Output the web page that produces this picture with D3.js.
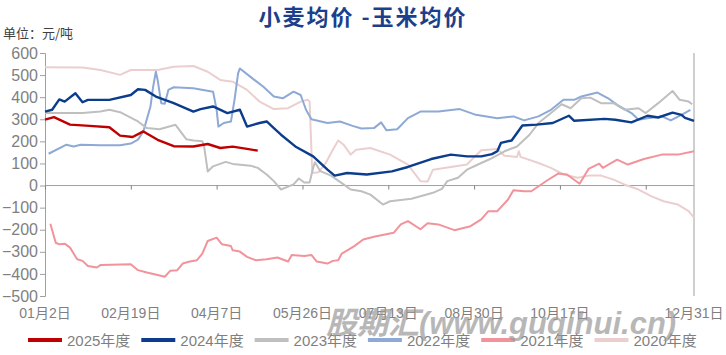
<!DOCTYPE html>
<html>
<head>
<meta charset="utf-8">
<script src="https://cdn.jsdelivr.net/npm/d3@7"></script>
<style>
  body { margin: 0; background: #fff; }
  svg { display: block; font-family: "Liberation Sans", Arial, "Noto Sans CJK SC", sans-serif; }
</style>
</head>
<body>
<div id="chart"></div>
<script>
// day offset from 01-02, spread (wheat avg - corn avg), yuan/ton
const s2025 = [[0,298],[5,310],[14,276],[25,270],[36,264],[42,226],[49,220],[55,245],[63,207],[72,178],[83,177],[91,188],[98,170],[105,176],[113,166],[119,158]]
const s2024 = [[0,335],[4,343],[8,390],[11,380],[17,418],[21,377],[24,388],[36,388],[48,410],[52,436],[56,433],[62,403],[72,373],[83,335],[87,346],[94,358],[102,328],[109,343],[113,267],[120,283],[124,290],[128,260],[132,230],[140,177],[150,132],[158,72],[162,45],[169,57],[180,50],[194,64],[203,84],[216,120],[227,140],[236,132],[244,132],[250,142],[253,155],[255,193],[261,204],[267,272],[275,276],[284,283],[293,316],[296,293],[313,302],[319,298],[328,286],[337,316],[343,308],[351,330],[356,320],[358,306],[363,293]]
const s2023 = [[0,328],[21,328],[31,335],[36,343],[42,332],[52,290],[57,260],[64,255],[73,275],[79,210],[83,204],[88,200],[89,177],[91,64],[94,87],[101,107],[105,98],[115,90],[119,80],[124,50],[128,20],[132,-18],[139,5],[142,32],[145,14],[148,14],[150,81],[151,105],[154,65],[160,45],[167,5],[171,-18],[177,-26],[182,-41],[189,-86],[193,-71],[205,-60],[217,-33],[222,-15],[225,20],[231,35],[236,72],[244,102],[249,120],[257,155],[264,177],[271,230],[276,283],[283,328],[289,368],[294,350],[300,395],[305,398],[311,373],[318,373],[324,343],[332,350],[336,328],[343,373],[351,428],[355,388],[360,380],[362,368]]
const s2022 = [[2,144],[12,185],[16,177],[20,185],[31,182],[42,182],[48,190],[52,208],[55,245],[59,358],[60.5,448],[62,515],[63,478],[65,373],[67,370],[69,433],[72,445],[83,440],[94,425],[96,343],[97,267],[100,283],[104,290],[106,388],[108,508],[109,530],[116,485],[122,448],[128,403],[133,395],[139,425],[143,410],[146,343],[149,300],[158,283],[165,290],[172,270],[177,258],[184,260],[188,286],[191,250],[197,255],[203,305],[210,335],[220,335],[232,346],[241,320],[253,305],[262,313],[268,295],[276,313],[283,343],[290,388],[296,388],[300,403],[309,421],[315,395],[320,365],[328,328],[332,298],[337,305],[345,313],[350,295],[356,320],[361,343]]
const s2021 = [[3,-173],[6,-259],[8,-266],[11,-263],[14,-281],[18,-334],[21,-341],[24,-364],[29,-371],[31,-360],[48,-356],[52,-383],[57,-394],[63,-405],[67,-413],[70,-386],[74,-383],[77,-353],[81,-344],[85,-338],[88,-308],[91,-251],[96,-236],[99,-266],[104,-274],[105,-293],[109,-299],[113,-323],[118,-338],[124,-334],[130,-326],[136,-344],[138,-314],[145,-319],[149,-314],[152,-344],[158,-353],[161,-341],[164,-338],[166,-308],[170,-289],[173,-274],[178,-244],[184,-232],[195,-214],[199,-176],[203,-161],[210,-198],[214,-171],[220,-176],[229,-202],[238,-184],[244,-153],[248,-116],[253,-116],[259,-63],[262,-21],[268,-26],[272,-26],[281,24],[287,54],[292,50],[299,8],[304,75],[310,99],[312,80],[320,117],[326,95],[335,120],[345,140],[354,140],[363,155]]
const s2020 = [[0,535],[21,534],[31,523],[42,501],[48,523],[63,523],[72,538],[83,541],[91,515],[98,478],[105,470],[113,433],[120,380],[128,346],[136,350],[143,380],[147,388],[148,380],[149.5,57],[153,60],[157,102],[161,162],[164,204],[167,185],[171,140],[174,162],[182,170],[193,140],[203,95],[210,20],[214,18],[217,72],[227,84],[236,95],[244,160],[253,165],[257,135],[264,129],[265,155],[266,130],[276,102],[283,80],[290,50],[298,35],[304,45],[311,45],[318,27],[324,5],[332,-18],[339,-48],[346,-71],[354,-86],[360,-116],[363,-145]]

const seriesNames = ["2025年度", "2024年度", "2023年度", "2022年度", "2021年度", "2020年度"]
const tickDays = [0, 48, 96, 144, 192, 240, 288, 336]
const tickLabels = ["01月2日", "02月19日", "04月7日", "05月26日", "07月13日", "08月30日", "10月17日", "", "12月31日"]
const labelDays = [0, 48, 96, 144, 192, 240, 288, 336, 363]
const yTicks = d3.range(-500, 601, 100)

const series = [
  { name: seriesNames[0], data: s2025, color: "#c00000", width: 2.4 },
  { name: seriesNames[1], data: s2024, color: "#0b3d8c", width: 2.4 },
  { name: seriesNames[2], data: s2023, color: "#bfbfbf", width: 2 },
  { name: seriesNames[3], data: s2022, color: "#8ea9d6", width: 2 },
  { name: seriesNames[4], data: s2021, color: "#f2939b", width: 2 },
  { name: seriesNames[5], data: s2020, color: "#ebcfcf", width: 2 }
]

const width = 726, height = 355
const margin = { top: 53, right: 32, bottom: 59, left: 45 }

const x = d3.scaleLinear().domain([0, 363]).range([margin.left, width - margin.right])
const y = d3.scaleLinear().domain([-500, 600]).range([height - margin.bottom, margin.top])

const svg = d3.select("#chart").append("svg")
  .attr("width", width).attr("height", height)

svg.append("text")
  .attr("x", 363).attr("y", 25)
  .attr("text-anchor", "middle")
  .attr("font-family", "'Noto Sans CJK SC', sans-serif")
  .attr("font-size", 22).attr("font-weight", 700)
  .attr("letter-spacing", 2)
  .attr("fill", "#1b3f8b")
  .text("小麦均价 -玉米均价")

svg.append("text")
  .attr("x", 3).attr("y", 38)
  .attr("font-family", "'Noto Sans CJK SC', sans-serif")
  .attr("font-size", 13).attr("fill", "#404040")
  .text("单位：元/吨")

// Y axis
svg.append("g")
  .attr("transform", `translate(${margin.left},0)`)
  .call(d3.axisLeft(y).tickValues(yTicks).tickSize(5).tickPadding(2))
  .call(g => g.select(".domain").attr("stroke", "#a0a0a0"))
  .call(g => g.selectAll(".tick line").attr("stroke", "#a0a0a0"))
  .call(g => g.selectAll(".tick text").attr("font-size", 16).attr("fill", "#7f7f7f")
    .attr("font-family", "'Liberation Sans', Arial, sans-serif"))

// right border
svg.append("line")
  .attr("x1", x(363)).attr("x2", x(363))
  .attr("y1", y(600)).attr("y2", y(-500))
  .attr("stroke", "#a0a0a0")

// zero line with ticks hanging down
svg.append("g")
  .attr("transform", `translate(0,${y(0)})`)
  .call(d3.axisBottom(x).tickValues(tickDays).tickSize(4).tickFormat(""))
  .call(g => g.select(".domain").attr("stroke", "#a0a0a0").attr("d", `M${x(0)},0H${x(363)}`))
  .call(g => g.selectAll(".tick line").attr("stroke", "#808080"))

// date labels along the bottom
svg.append("g").selectAll("text")
  .data(labelDays)
  .join("text")
  .attr("x", d => x(d))
  .attr("y", 318)
  .attr("text-anchor", "middle")
  .attr("font-size", 14)
  .attr("fill", "#7f7f7f")
  .text((d, i) => tickLabels[i])

const line = d3.line().x(d => x(d[0])).y(d => y(d[1]))

svg.append("g").selectAll("path")
  .data(series.slice().reverse())
  .join("path")
  .attr("d", d => line(d.data))
  .attr("fill", "none")
  .attr("stroke", d => d.color)
  .attr("stroke-width", d => d.width)
  .attr("stroke-linejoin", "round")

// Legend
const legend = svg.append("g").attr("transform", "translate(28,340)")
series.forEach((s, i) => {
  const grp = legend.append("g").attr("transform", `translate(${i * 113.3},0)`)
  grp.append("line").attr("x1", 0).attr("x2", 34).attr("y1", 0).attr("y2", 0)
    .attr("stroke", s.color).attr("stroke-width", 4)
  grp.append("text")
    .attr("x", 39).attr("y", 6)
    .attr("font-size", 15).attr("fill", "#7f7f7f")
    .text(s.name)
})

// watermark
svg.append("text")
  .attr("x", 326).attr("y", 334)
  .attr("font-size", 31).attr("font-weight", 700).attr("font-style", "italic")
  .attr("fill", "#9a9a9a").attr("opacity", 0.7)
  .text("股期汇(www.guqihui.cn)")
</script>
</body>
</html>
